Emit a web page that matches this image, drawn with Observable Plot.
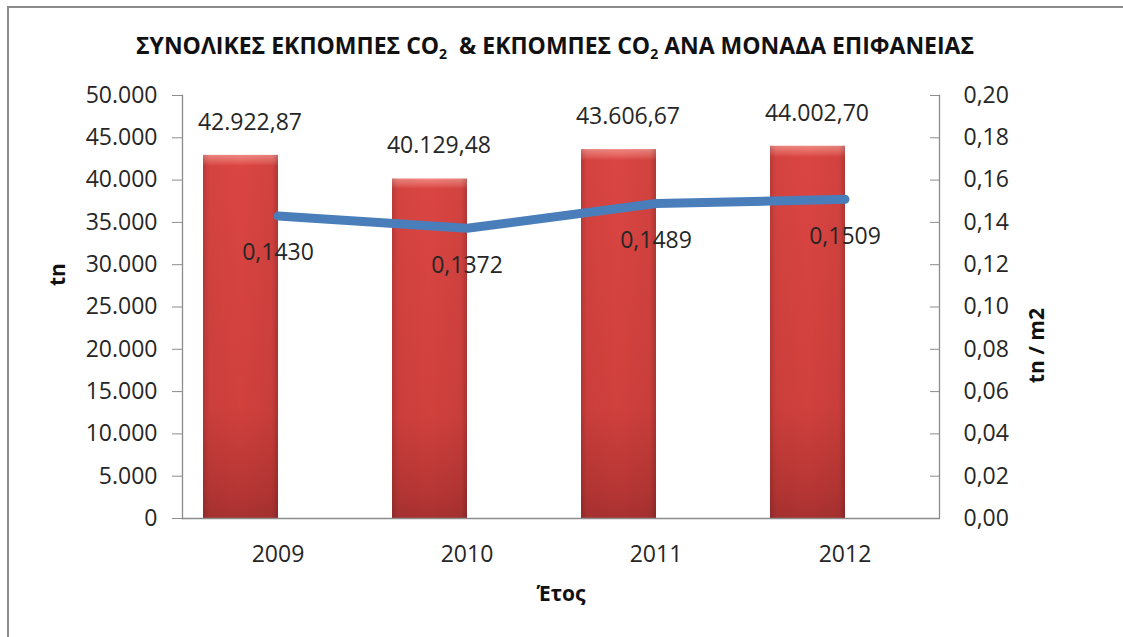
<!DOCTYPE html>
<html><head><meta charset="utf-8">
<script src="https://cdn.jsdelivr.net/npm/d3@7"></script>
<script src="https://cdn.jsdelivr.net/npm/@observablehq/plot@0.6"></script>
<style>
body{margin:0;background:#fff;}
#wrap{position:relative;width:1123px;height:637px;overflow:hidden;font-family:"Open Sans",sans-serif;color:#262626;background:#fff}
#border{position:absolute;left:7px;top:6px;width:1200px;height:700px;border-top:2px solid #8c8c8c;border-left:2px solid #8c8c8c;box-sizing:border-box}
#title{position:absolute;left:0;width:1110px;top:31px;text-align:center;font-weight:700;font-size:23px;line-height:28px;white-space:nowrap;color:#111}
#title sub{font-size:14px;vertical-align:-5px;line-height:0}
#chart{position:absolute;left:0;top:0}
</style></head><body>
<div id="wrap"><div id="border"></div><div id="title">ΣΥΝΟΛΙΚΕΣ ΕΚΠΟΜΠΕΣ CO<sub>2</sub>&nbsp; &amp; ΕΚΠΟΜΠΕΣ CO<sub>2</sub> ΑΝΑ ΜΟΝΑΔΑ ΕΠΙΦΑΝΕΙΑΣ</div><div id="chart"></div></div>
<script>
// ---- data ----
const years = ["2009", "2010", "2011", "2012"];
const emissions = [42922.87, 40129.48, 43606.67, 44002.70];   // tn (left axis)
const perArea = [0.1430, 0.1372, 0.1489, 0.1509];            // tn / m2 (right axis)
const leftTicks = [0, 5000, 10000, 15000, 20000, 25000, 30000, 35000, 40000, 45000, 50000];
const leftMax = 50000;
const rightMax = 0.20;
const yLabelLeft = "tn";
const yLabelRight = "tn / m2";
const xLabel = "Έτος";

const k = leftMax / rightMax; // secondary axis mapped onto primary scale
const rows = years.map((y, i) => ({year: y, tn: emissions[i], area: perArea[i], areaScaled: perArea[i] * k}));

const loc = d3.formatLocale({decimal: ",", thousands: ".", grouping: [3], currency: ["", "€"]});
const fInt = loc.format(",.0f");
const f2 = loc.format(",.2f");
const f4 = loc.format(".4f");
const fR = loc.format(".2f");

const NS = "http://www.w3.org/2000/svg";
function defs() {
  const d = document.createElementNS(NS, "defs");
  d.innerHTML = `
  <linearGradient id="barV" x1="0" y1="0" x2="0" y2="1">
    <stop offset="0" stop-color="#ee8882"/>
    <stop offset="0.022" stop-color="#e35a55"/>
    <stop offset="0.03" stop-color="#da4542"/>
    <stop offset="0.7" stop-color="#d0403d"/>
    <stop offset="0.93" stop-color="#b63634"/>
    <stop offset="1" stop-color="#a83131"/>
  </linearGradient>
  <linearGradient id="barH" x1="0" y1="0" x2="1" y2="0">
    <stop offset="0" stop-color="#000" stop-opacity="0.16"/>
    <stop offset="0.08" stop-color="#000" stop-opacity="0.03"/>
    <stop offset="0.5" stop-color="#000" stop-opacity="0"/>
    <stop offset="0.92" stop-color="#000" stop-opacity="0.04"/>
    <stop offset="1" stop-color="#000" stop-opacity="0.2"/>
  </linearGradient>`;
  return d;
}

const chart = Plot.plot({
  width: 1123,
  height: 637,
  marginLeft: 182,
  marginRight: 184,
  marginTop: 95,
  marginBottom: 119,
  style: {fontFamily: "Open Sans", fontSize: "23px", color: "#262626", background: "transparent", overflow: "visible"},
  x: {domain: years, padding: 0, axis: null},
  y: {domain: [0, leftMax], axis: null},
  marks: [
    defs,
    Plot.barY(rows, {x: "year", y: "tn", fill: "url(#barV)", insetLeft: 20, insetRight: 94}),
    Plot.barY(rows, {x: "year", y: "tn", fill: "url(#barH)", insetLeft: 20, insetRight: 94}),
    Plot.ruleY([0], {stroke: "#8c8c8c", strokeWidth: 1.3}),
    Plot.frame({anchor: "left", stroke: "#8c8c8c", strokeWidth: 1.3}),
    Plot.frame({anchor: "right", stroke: "#8c8c8c", strokeWidth: 1.3}),
    Plot.axisY({anchor: "left", ticks: leftTicks, tickSize: 10, tickPadding: 15, tickFormat: fInt, stroke: "#8c8c8c", fill: "#262626", label: null}),
    Plot.axisY({anchor: "right", ticks: leftTicks, tickSize: 10, dx: -10, tickFormat: () => "", stroke: "#8c8c8c", label: null}),
    Plot.axisY({anchor: "right", ticks: leftTicks, tickSize: 0, tickPadding: 24, tickFormat: d => fR(d / k), fill: "#262626", label: null}),
    Plot.axisX({anchor: "bottom", tickSize: 0, tickPadding: 27, fill: "#262626", label: null}),
    Plot.line(rows, {x: "year", y: "areaScaled", stroke: "#4a7ebb", strokeWidth: 9, strokeLinecap: "round", strokeLinejoin: "round"}),
    Plot.text(rows, {x: "year", y: "tn", text: d => f2(d.tn), dx: -28, dy: -33, fill: "#262626"}),
    Plot.text(rows, {x: "year", y: "areaScaled", text: d => f4(d.area), dx: 0, dy: 37, fill: "#262626"}),
    Plot.text([yLabelLeft], {frameAnchor: "left", dx: -124, dy: -21, rotate: -90, fontWeight: "bold", fontSize: 21, fill: "#111"}),
    Plot.text([yLabelRight], {frameAnchor: "right", dx: 98, dy: 1, rotate: -90, fontWeight: "bold", fontSize: 21, fill: "#111"}),
    Plot.text([xLabel], {frameAnchor: "bottom", dy: 82, fontWeight: "bold", fontSize: 21, fill: "#111"})
  ]
});
document.getElementById("chart").appendChild(chart);
</script>
</body></html>
